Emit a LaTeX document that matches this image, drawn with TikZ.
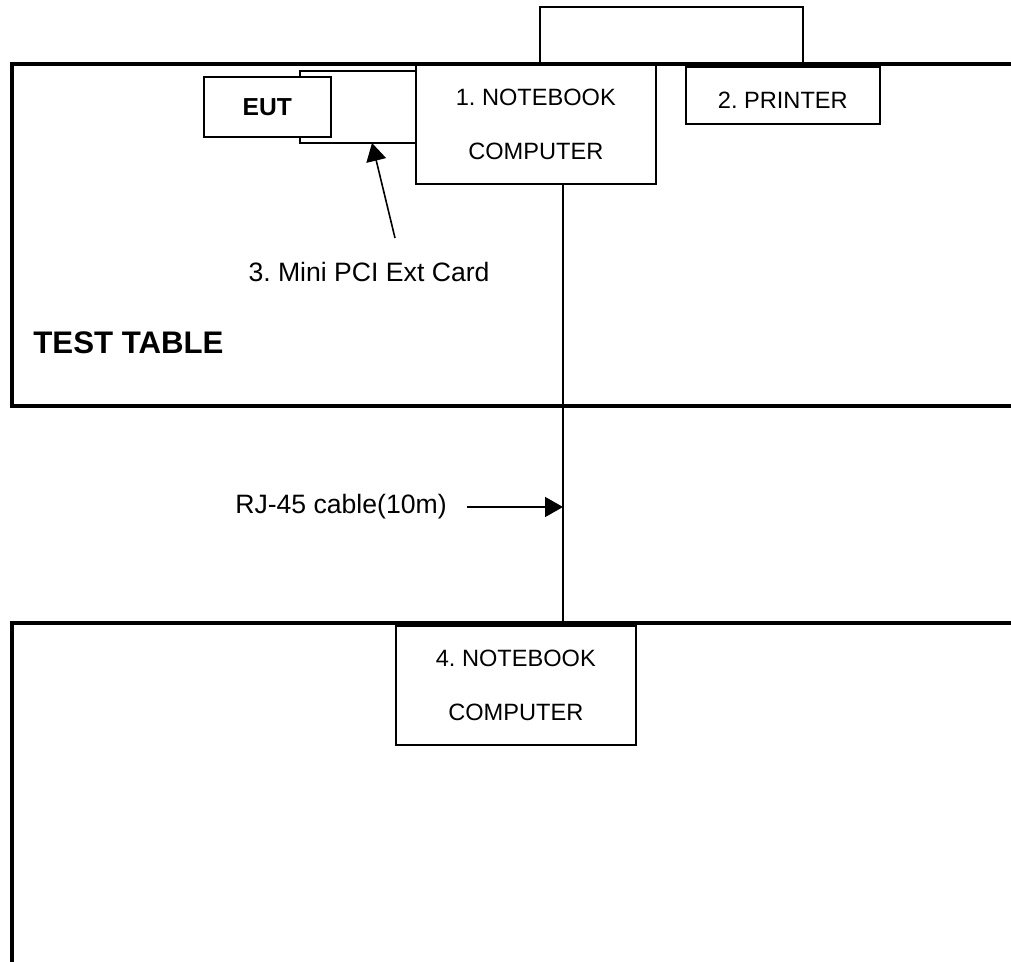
\documentclass[tikz,border=0pt]{standalone}
\usepackage{fontspec}
\setmainfont{Liberation Sans}
\usetikzlibrary{arrows.meta}
\usetikzlibrary{positioning}
\frenchspacing

\tikzset{
  tabline/.style={line width=2pt},
  box/.style={draw, line width=0.8pt, fill=white, inner sep=0pt, anchor=north west},
  pcbox/.style={box, align=center, font=\fontsize{11.8}{27}\selectfont},
  lbl/.style={font=\fontsize{13.3}{16}\selectfont, inner sep=0pt},
  pointer/.style={line width=0.8pt, -{Triangle[length=9pt,width=10pt]}}
}

\begin{document}
\begin{tikzpicture}[x=0.5pt, y=-0.5pt]
    \useasboundingbox (0,0) rectangle (1011,962);

    % test tables
    \draw[tabline] (1011,64) -- (12,64) -- (12,406) -- (1011,406);
    \draw[tabline] (1011,623) -- (12,623) -- (12,962);
    \node[font=\bfseries\fontsize{15.6}{18}\selectfont, inner sep=0pt, anchor=west] (tt) at (33,343) {TEST TABLE};

    % devices on the first table
    \draw[line width=0.8pt] (540,64) rectangle (803,7);
    \node[box, minimum width=58pt, minimum height=36pt] (card) at (299,70) {};
    \node[box, minimum width=63.5pt, minimum height=30pt, font=\bfseries\fontsize{12.3}{14}\selectfont] (eut) at (203,76) {EUT};
    \node[pcbox, minimum width=120pt, minimum height=59.5pt] (nb1) at (415,64) {1. NOTEBOOK\\COMPUTER};
    \node[pcbox, minimum width=97pt, minimum height=28.5pt, text depth=0pt, text height=13pt] (prn) at (685,66) {2. PRINTER};

    % device on the second table
    \node[pcbox, minimum width=120pt, minimum height=59.5pt] (nb4) at (395,625) {4. NOTEBOOK\\COMPUTER};

    % cable
    \coordinate (jack) at (563,183);
    \draw[line width=0.8pt] (nb1.south -| jack) -- (nb4.north -| jack);

    % labels
    \node[lbl] (pci) at (369,272) {3. Mini PCI Ext Card};
    \coordinate (pcitail) at (395,238);
    \draw[pointer] (pcitail) -- (372,143);

    \node[lbl] (rj) at (341,507) {RJ-45 cable(10m)};
    \coordinate (rjtail) at (467,507);
    \draw[pointer] (rjtail) -- (rjtail -| jack);

  \end{tikzpicture}
\end{document}
